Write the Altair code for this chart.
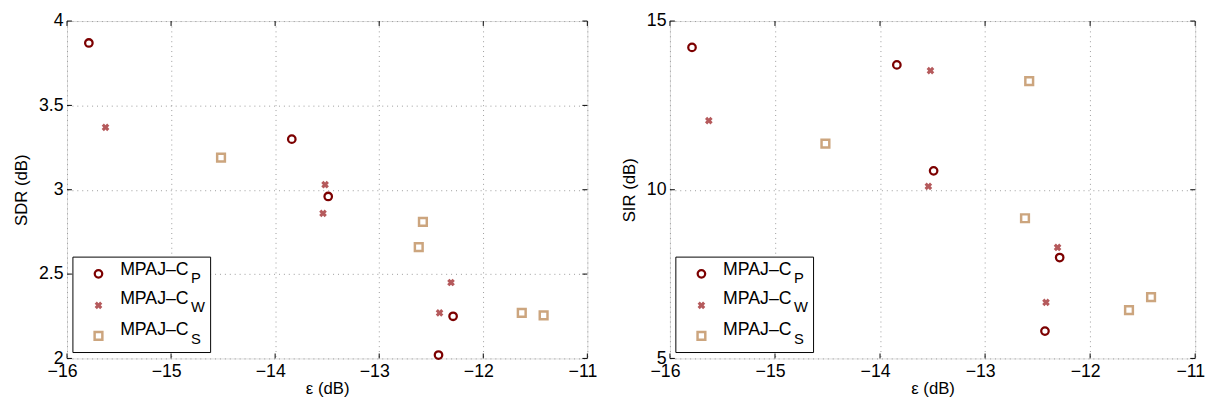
import altair as alt
import pandas as pd

# ---- data ----
eps_P = [-15.79, -13.84, -13.49, -12.29, -12.43]
eps_W = [-15.63, -13.52, -13.54, -12.31, -12.42]
eps_S = [-14.52, -12.58, -12.62, -11.63, -11.42]

sdr_P = [3.87, 3.30, 2.96, 2.25, 2.02]
sdr_W = [3.37, 3.03, 2.86, 2.45, 2.27]
sdr_S = [3.19, 2.81, 2.66, 2.27, 2.255]

sir_P = [14.22, 13.70, 10.56, 7.99, 5.81]
sir_W = [12.05, 13.53, 10.10, 8.29, 6.66]
sir_S = [11.37, 13.22, 9.155, 6.43, 6.82]

eps_ticks = [-16, -15, -14, -13, -12, -11]
sdr_ticks = [2, 2.5, 3, 3.5, 4]
sir_ticks = [5, 10, 15]

legend_main = "MPAJ\u2013C"
legend_subs = ["P", "W", "S"]

FONT = "Liberation Sans"
C_P = "#7c0000"
C_W = "#b55a5c"
C_S = "#cca57e"

H = 343

STY_P = dict(shape="circle", filled=False, color=C_P, strokeWidth=2.3, size=58, opacity=1)
STY_W = dict(shape="cross", filled=True, color=C_W, angle=45, size=62, opacity=1)
STY_S = dict(shape="square", filled=False, color=C_S, strokeWidth=2.5, size=62, opacity=1)


def panel(yP, yW, yS, ydom, yticks, ytitle, w, h):
    xs = alt.Scale(domain=[-16, -11], nice=False, zero=False)
    ys = alt.Scale(domain=ydom, nice=False, zero=False)
    xaxis = alt.Axis(values=eps_ticks, format="~g", title="\u03b5 (dB)", grid=True,
                     gridDash=[1, 4], gridColor="#9a9a9a", gridWidth=1,
                     ticks=False, domain=False, labelFlush=False, labelOffset=-5,
                     labelPadding=4, titlePadding=1, labelFontSize=18, titleFontSize=17,
                     labelColor="black", titleColor="black", titleFontWeight="normal",
                     labelFont=FONT, titleFont=FONT)
    yaxis = alt.Axis(values=yticks, format="~g", title=ytitle, grid=True,
                     gridDash=[1, 4], gridColor="#9a9a9a", gridWidth=1,
                     ticks=False, domain=False, labelFlush=False,
                     labelPadding=4, titlePadding=8, labelFontSize=18, titleFontSize=17,
                     labelColor="black", titleColor="black", titleFontWeight="normal",
                     labelFont=FONT, titleFont=FONT)

    X = alt.X("eps:Q", scale=xs, axis=xaxis)
    Y = alt.Y("val:Q", scale=ys, axis=yaxis)

    pP = alt.Chart(pd.DataFrame({"eps": eps_P, "val": yP})).mark_point(**STY_P).encode(x=X, y=Y)
    pW = alt.Chart(pd.DataFrame({"eps": eps_W, "val": yW})).mark_point(**STY_W).encode(x=X, y=Y)
    pS = alt.Chart(pd.DataFrame({"eps": eps_S, "val": yS})).mark_point(**STY_S).encode(x=X, y=Y)

    xt = pd.DataFrame({"eps": eps_ticks})
    yt = pd.DataFrame({"val": yticks})
    tb = alt.Chart(xt).mark_rule(color="black", strokeWidth=1).encode(x=X, y=alt.value(h), y2=alt.value(h - 5))
    tt = alt.Chart(xt).mark_rule(color="black", strokeWidth=1).encode(x=X, y=alt.value(0), y2=alt.value(5))
    tl = alt.Chart(yt).mark_rule(color="black", strokeWidth=1).encode(y=Y, x=alt.value(0), x2=alt.value(5))
    tr = alt.Chart(yt).mark_rule(color="black", strokeWidth=1).encode(y=Y, x=alt.value(w), x2=alt.value(w - 5))

    one = alt.Data(values=[{"a": 1}])
    box = alt.Chart(one).mark_rect(fill="white", stroke="black", strokeWidth=1).encode(
        x=alt.value(6), x2=alt.value(146), y=alt.value(h - 103), y2=alt.value(h - 6))

    leg = [box]
    sym_y = [86, 54, 23]
    main_y = [85, 55, 24]
    sub_y = [77, 47, 15]
    styles = [STY_P, STY_W, STY_S]
    for i in range(3):
        leg.append(alt.Chart(one).mark_point(**styles[i]).encode(
            x=alt.value(32), y=alt.value(h - sym_y[i])))
        leg.append(alt.Chart(one).mark_text(align="left", baseline="alphabetic", fontSize=18,
                                            font=FONT, color="black").encode(
            x=alt.value(54), y=alt.value(h - main_y[i]), text=alt.value(legend_main)))
        leg.append(alt.Chart(one).mark_text(align="left", baseline="alphabetic", fontSize=15,
                                            font=FONT, color="black").encode(
            x=alt.value(126), y=alt.value(h - sub_y[i]), text=alt.value(legend_subs[i])))

    return alt.layer(pP, pW, pS, tb, tt, tl, tr, *leg).properties(width=w, height=h)


left = panel(sdr_P, sdr_W, sdr_S, [2, 4], sdr_ticks, "SDR (dB)", 529, H)
right = panel(sir_P, sir_W, sir_S, [5, 15], sir_ticks, "SIR (dB)", 534, H)

chart = alt.hconcat(left, right, spacing=22).properties(
    padding={"left": 4, "top": 0, "right": 0, "bottom": 0}
).configure_view(stroke="black", strokeWidth=1).configure(font=FONT)

chart.save("out.html", embed_options={"renderer": "svg", "actions": False})
